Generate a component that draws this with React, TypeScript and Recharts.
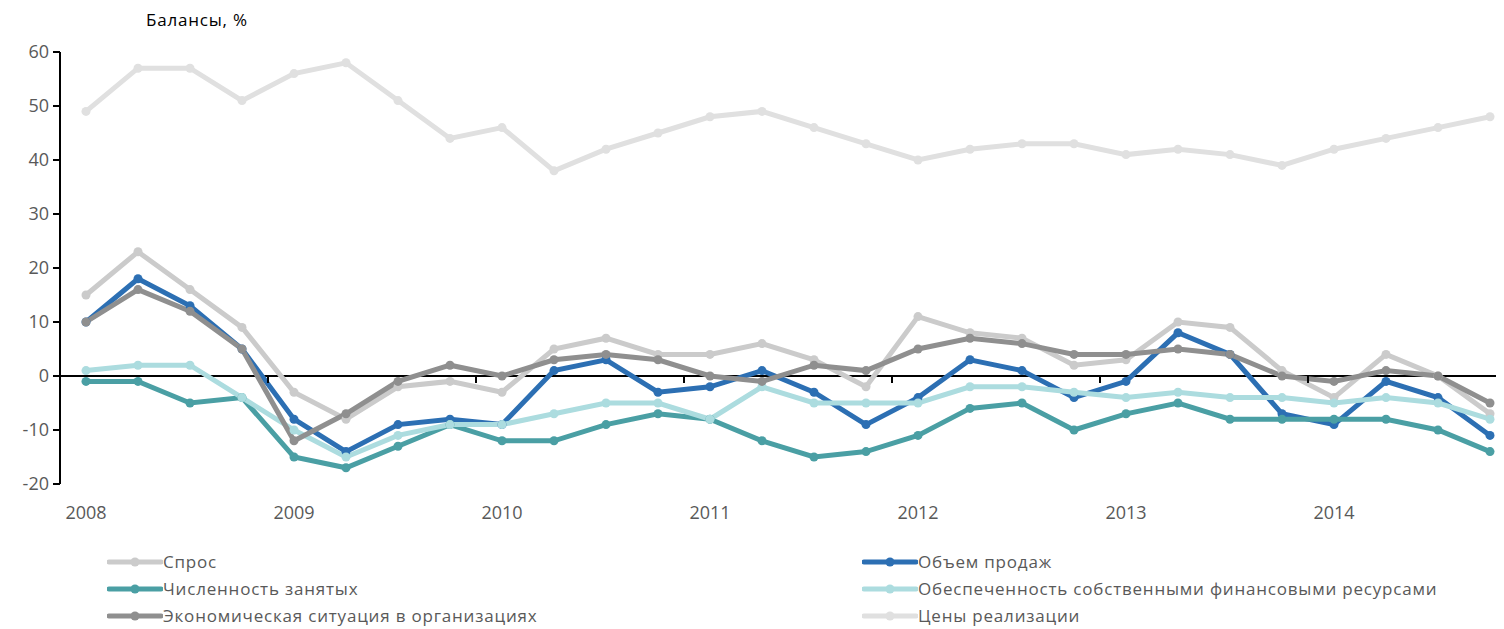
import React from 'react';
import { LineChart, Line, XAxis, YAxis, ReferenceLine, Legend } from 'recharts';

const quarters = [
  'I 2008', 'II 2008', 'III 2008', 'IV 2008',
  'I 2009', 'II 2009', 'III 2009', 'IV 2009',
  'I 2010', 'II 2010', 'III 2010', 'IV 2010',
  'I 2011', 'II 2011', 'III 2011', 'IV 2011',
  'I 2012', 'II 2012', 'III 2012', 'IV 2012',
  'I 2013', 'II 2013', 'III 2013', 'IV 2013',
  'I 2014', 'II 2014', 'III 2014', 'IV 2014',
];

const demand = [15, 23, 16, 9, -3, -8, -2, -1, -3, 5, 7, 4, 4, 6, 3, -2, 11, 8, 7, 2, 3, 10, 9, 1, -4, 4, 0, -7];
const salesVolume = [10, 18, 13, 5, -8, -14, -9, -8, -9, 1, 3, -3, -2, 1, -3, -9, -4, 3, 1, -4, -1, 8, 4, -7, -9, -1, -4, -11];
const employment = [-1, -1, -5, -4, -15, -17, -13, -9, -12, -12, -9, -7, -8, -12, -15, -14, -11, -6, -5, -10, -7, -5, -8, -8, -8, -8, -10, -14];
const ownFunds = [1, 2, 2, -4, -10, -15, -11, -9, -9, -7, -5, -5, -8, -2, -5, -5, -5, -2, -2, -3, -4, -3, -4, -4, -5, -4, -5, -8];
const economy = [10, 16, 12, 5, -12, -7, -1, 2, 0, 3, 4, 3, 0, -1, 2, 1, 5, 7, 6, 4, 4, 5, 4, 0, -1, 1, 0, -5];
const prices = [49, 57, 57, 51, 56, 58, 51, 44, 46, 38, 42, 45, 48, 49, 46, 43, 40, 42, 43, 43, 41, 42, 41, 39, 42, 44, 46, 48];

const yTicks = [-20, -10, 0, 10, 20, 30, 40, 50, 60];

const series = [
  { key: 'demand', name: 'Спрос', color: '#cbcbcb' },
  { key: 'salesVolume', name: 'Объем продаж', color: '#2c6fb3' },
  { key: 'employment', name: 'Численность занятых', color: '#4a9fa4' },
  { key: 'ownFunds', name: 'Обеспеченность собственными финансовыми ресурсами', color: '#acdcdf' },
  { key: 'economy', name: 'Экономическая ситуация в организациях', color: '#8f8f8f' },
  { key: 'prices', name: 'Цены реализации', color: '#e0e0e0' },
];

const data = quarters.map((q, i) => ({
  q,
  demand: demand[i],
  salesVolume: salesVolume[i],
  employment: employment[i],
  ownFunds: ownFunds[i],
  economy: economy[i],
  prices: prices[i],
}));

const W = 1520;
const H = 621;
const TOP = 44;
const LEFT = 52;
const RIGHT = 12;
const PLOT_H = 432;
const LEGEND_H = 81;
const BAND = (W - LEFT - RIGHT) / quarters.length;
const ZERO_Y = TOP + PLOT_H * (60 / 80);
const FONT = '"Open Sans", sans-serif';

const YearTick = (props: any) => {
  const { x, payload } = props;
  return (
    <g>
      <line x1={x - BAND / 2} x2={x - BAND / 2} y1={ZERO_Y} y2={ZERO_Y + 7} stroke="#000" strokeWidth={2} />
      <text x={x} y={TOP + PLOT_H + 35} textAnchor="middle" fill="#595959" fontSize={18} fontFamily={FONT}>
        {String(payload.value).split(' ')[1]}
      </text>
    </g>
  );
};

const LegendContent = () => (
  <div
    style={{
      display: 'grid',
      gridTemplateColumns: '755px 1fr',
      height: LEGEND_H,
      paddingLeft: 99,
      fontFamily: FONT,
      fontSize: 17,
      letterSpacing: 0.8,
      color: '#595959',
    }}
  >
    {series.map((s) => (
      <div key={s.key} style={{ display: 'flex', alignItems: 'center', height: 27 }}>
        <svg width={56} height={12}>
          <line x1={2} x2={54} y1={6} y2={6} stroke={s.color} strokeWidth={5} strokeLinecap="round" />
          <circle cx={28} cy={6} r={4.5} fill={s.color} />
        </svg>
        <span>{s.name}</span>
      </div>
    ))}
  </div>
);

export default function App() {
  return (
    <div style={{ width: 1496, height: H, overflow: 'hidden', position: 'relative', fontFamily: FONT }}>
      <div style={{ position: 'absolute', left: 138, top: 0, fontSize: 17, letterSpacing: 0.8, color: '#000', zIndex: 2 }}>
        Балансы, %
      </div>
      <LineChart width={W} height={H} data={data} margin={{ top: TOP, right: RIGHT, bottom: 0, left: 0 }}>
        <XAxis
          dataKey="q"
          scale="band"
          interval={3}
          axisLine={false}
          tickLine={false}
          height={H - TOP - PLOT_H - LEGEND_H}
          tick={<YearTick />}
        />
        <YAxis
          width={LEFT}
          domain={[-20, 60]}
          ticks={yTicks}
          interval={0}
          axisLine={{ stroke: '#000', strokeWidth: 2 }}
          tickLine={{ stroke: '#000', strokeWidth: 2 }}
          tickSize={7}
          tickMargin={4}
          tick={{ fill: '#595959', fontSize: 18, fontFamily: FONT }}
        />
        <ReferenceLine y={0} stroke="#000" strokeWidth={2} />
        <Legend verticalAlign="bottom" content={<LegendContent />} />
        {series.map((s) => (
          <Line
            key={s.key}
            type="linear"
            dataKey={s.key}
            name={s.name}
            stroke={s.color}
            strokeWidth={5}
            dot={{ r: 4.5, fill: s.color, stroke: s.color, strokeWidth: 0 }}
            activeDot={false}
            isAnimationActive={false}
          />
        ))}
      </LineChart>
    </div>
  );
}
